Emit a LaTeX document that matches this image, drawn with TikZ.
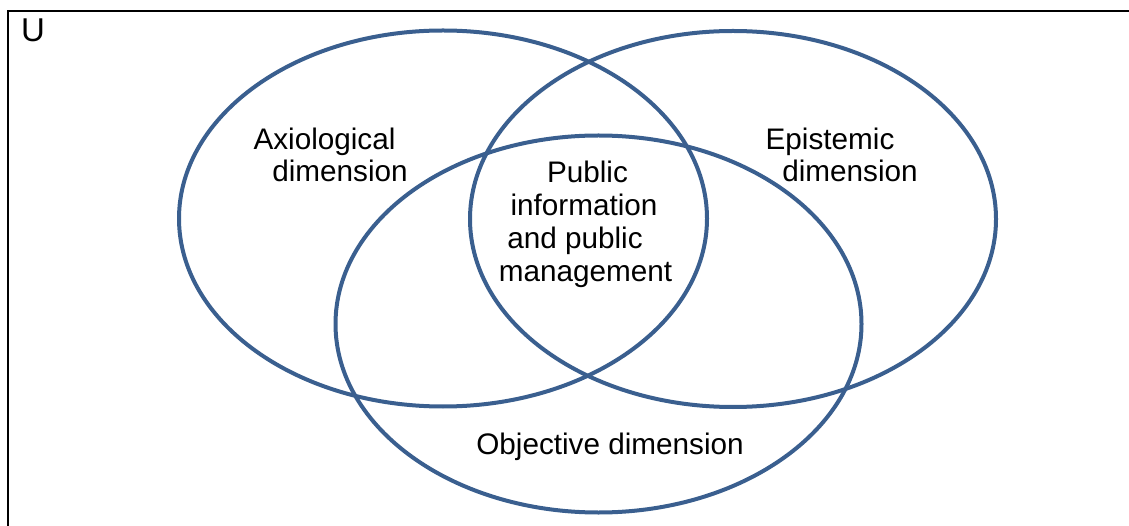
\documentclass[tikz,border=0pt]{standalone}
\usepackage{fontspec}
\setmainfont{Liberation Sans}
\definecolor{vennblue}{RGB}{58,95,143}
\begin{document}
\begin{tikzpicture}[x=1pt,y=-1pt,
  venn/.style={draw=vennblue,line width=4pt},
  lbl/.style={anchor=base,inner sep=0pt,font=\fontsize{29.7}{33}\selectfont}]
\useasboundingbox (0,0) rectangle (1129,526);
\draw[line width=2.6pt,line cap=rect] (8,526) -- (8,11) -- (1129,11);
\node[anchor=base west,inner sep=0pt,font=\fontsize{33}{36}\selectfont] (u) at (21,42) {U};
\draw[venn] (443,218.5) ellipse [x radius=264,y radius=188];
\draw[venn] (733,219) ellipse [x radius=263,y radius=188];
\draw[venn] (598.5,324) ellipse [x radius=263,y radius=188.5];
\node[lbl] (axio1) at (324.5,150) {Axiological};
\node[lbl] (axio2) at (340,182) {dimension};
\node[lbl] (epis1) at (830,150) {Epistemic};
\node[lbl] (epis2) at (850,182) {dimension};
\node[lbl] (pub1) at (587.5,183) {Public};
\node[lbl] (pub2) at (584,216) {information};
\node[lbl] (pub3) at (575,249) {and public};
\node[lbl] (pub4) at (585.5,282) {management};
\node[lbl] (obj) at (610,454) {Objective dimension};
\end{tikzpicture}
\end{document}
